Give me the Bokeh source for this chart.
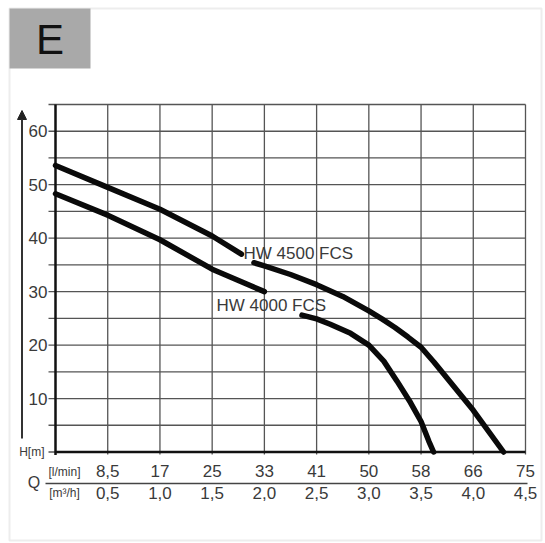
from bokeh.plotting import figure
from bokeh.models import Range1d, BoxAnnotation, Arrow, NormalHead, Label
from bokeh.core.properties import value
from bokeh.embed import file_html
from bokeh.resources import INLINE

# ---------------- data ----------------
q_ticks = [0.5, 1.0, 1.5, 2.0, 2.5, 3.0, 3.5, 4.0, 4.5]            # m3/h
q_lmin_labels = ["8,5", "17", "25", "33", "41", "50", "58", "66", "75"]
q_m3h_labels = ["0,5", "1,0", "1,5", "2,0", "2,5", "3,0", "3,5", "4,0", "4,5"]
h_ticks = [0, 5, 10, 15, 20, 25, 30, 35, 40, 45, 50, 55, 60, 65]
h_label_ticks = [10, 20, 30, 40, 50, 60]
h_labels = ["10", "20", "30", "40", "50", "60"]

# HW 4500 FCS (two pieces, gap for the label)
hw4500_q_a = [0.0, 0.5, 1.0, 1.5, 1.78]
hw4500_h_a = [53.6, 49.5, 45.4, 40.4, 37.0]
hw4500_q_b = [1.9, 2.0, 2.25, 2.5, 2.75, 3.0, 3.125, 3.25, 3.375, 3.5, 3.625, 3.75, 4.0, 4.29]
hw4500_h_b = [35.4, 34.8, 33.2, 31.3, 29.1, 26.4, 24.9, 23.3, 21.5, 19.6, 16.8, 13.8, 7.8, 0.0]
# HW 4000 FCS
hw4000_q_a = [0.0, 0.5, 1.0, 1.5, 2.0]
hw4000_h_a = [48.3, 44.3, 39.7, 34.2, 30.0]
hw4000_q_b = [2.36, 2.5, 2.63, 2.825, 3.0, 3.143, 3.27, 3.4, 3.5, 3.575, 3.62]
hw4000_h_b = [25.6, 24.9, 23.9, 22.2, 20.0, 17.0, 13.25, 9.2, 5.7, 2.0, 0.0]

series_names = ["HW 4500 FCS", "HW 4000 FCS"]
q_max, h_max = 4.5, 65

# ---------------- geometry (page pixels) ----------------
W, H = 545, 543
PX0, PX1 = 55.0, 525.0      # q = 0 .. q_max
PY0, PY1 = 451.5, 104.0     # h = 0 .. h_max
sx = (PX1 - PX0) / q_max
sy = (PY0 - PY1) / h_max


def dx(px):
    return (px - PX0) / sx


def dy(py):
    return (PY0 - py) / sy


FONT = "Liberation Sans"
GRID = "#555555"
TXT = "#3a3a3a"

p = figure(width=W, height=H, output_backend="svg", toolbar_location=None,
           x_range=Range1d(dx(0), dx(W)), y_range=Range1d(dy(H), dy(0)),
           x_axis_type=None, y_axis_type=None,
           min_border=0, background_fill_color="white", border_fill_color="white")
p.outline_line_color = None
p.grid.visible = False

# grid: vertical lines at q ticks, horizontal lines at h ticks (with outer tick stubs)
p.segment(x0=q_ticks, y0=[dy(PY0 + 2.5)] * len(q_ticks), x1=q_ticks,
          y1=[h_max] * len(q_ticks), line_color=GRID, line_width=1.3)
p.segment(x0=[dx(PX0 - 7)] * len(h_ticks), y0=h_ticks, x1=[q_max] * len(h_ticks),
          y1=h_ticks, line_color=GRID, line_width=1.3)

# axis lines
p.segment(x0=[0], y0=[dy(PY0 + 3)], x1=[0], y1=[h_max], line_color="#111111", line_width=2.5)
p.segment(x0=[0], y0=[0], x1=[q_max], y1=[0], line_color="#111111", line_width=2.5)

# left tick labels
p.text(x=[dx(PX0 - 8)] * len(h_label_ticks), y=h_label_ticks, text=h_labels,
       text_font=value(FONT), text_font_size="17px", text_color=TXT,
       text_align="right", text_baseline="middle")
p.text(x=[dx(44)], y=[0], text=["H[m]"], text_font=value(FONT), text_font_size="12px",
       text_color=TXT, text_align="right", text_baseline="middle")

# bottom tick labels: two rows with a separator line
p.text(x=q_ticks, y=[dy(470.5)] * len(q_ticks), text=q_lmin_labels,
       text_font=value(FONT), text_font_size="17px", text_color=TXT,
       text_align="center", text_baseline="middle")
p.text(x=q_ticks, y=[dy(492)] * len(q_ticks), text=q_m3h_labels,
       text_font=value(FONT), text_font_size="17px", text_color=TXT,
       text_align="center", text_baseline="middle")
p.segment(x0=[dx(45)], y0=[dy(483)], x1=[dx(527)], y1=[dy(483)],
          line_color="#444444", line_width=1.5)
p.text(x=[dx(33.5)], y=[dy(481.5)], text=["Q"], text_font=value(FONT),
       text_font_size="16px", text_color=TXT, text_align="center", text_baseline="middle")
p.text(x=[dx(64), dx(64)], y=[dy(471.5), dy(492.5)], text=["[l/min]", "[m³/h]"],
       text_font=value(FONT), text_font_size="12px", text_color=TXT,
       text_align="center", text_baseline="middle")

# curves
for qa, ha in ((hw4500_q_a, hw4500_h_a), (hw4500_q_b, hw4500_h_b),
               (hw4000_q_a, hw4000_h_a), (hw4000_q_b, hw4000_h_b)):
    p.line(qa, ha, line_color="#0a0a0a", line_width=5.5, line_join="round", line_cap="round")

# curve labels
p.text(x=[dx(243), dx(216)], y=[dy(253), dy(305)], text=series_names,
       text_font=value(FONT), text_font_size="17px", text_color=TXT,
       text_align="left", text_baseline="middle")

# outer frame, the "E" tab and the H arrow
p.add_layout(BoxAnnotation(left=dx(9), right=dx(541), top=dy(8), bottom=dy(540),
                           fill_alpha=0, line_color="#c2c2c2", line_width=2))
p.add_layout(BoxAnnotation(left=dx(9), right=dx(90), top=dy(8), bottom=dy(68),
                           fill_color="#a9a9a9", fill_alpha=1, line_color=None))
p.add_layout(Label(x=dx(49.5), y=dy(38.5), text="E", text_font=FONT,
                   text_font_size="42px", text_color="#111111", text_align="center",
                   text_baseline="middle"))
p.add_layout(Arrow(end=NormalHead(size=9, fill_color="#222222", line_color="#222222"),
                   x_start=dx(21.5), y_start=dy(438), x_end=dx(21.5), y_end=dy(110),
                   line_color="#333333", line_width=2))

open("out.html", "w").write(file_html(p, INLINE))
